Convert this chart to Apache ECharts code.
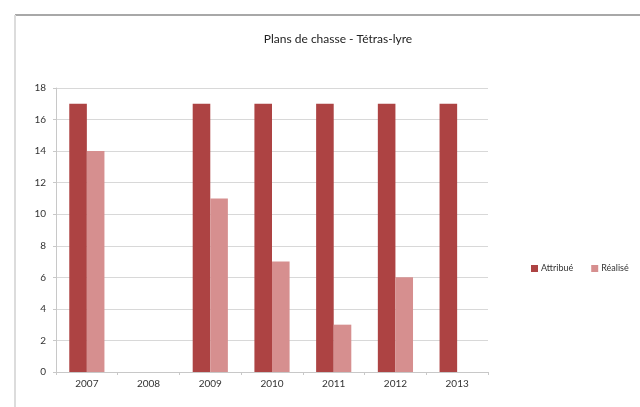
<!DOCTYPE html>
<html>
<head>
<meta charset="utf-8">
<script src="https://cdn.jsdelivr.net/npm/echarts@6/dist/echarts.min.js"></script>
<style>html,body{margin:0;padding:0;background:#fff}#c{width:640px;height:407px}</style>
</head>
<body>
<div id="c"></div>
<script>
const title = 'Plans de chasse - Tétras-lyre';
const categories = ['2007', '2008', '2009', '2010', '2011', '2012', '2013'];
const attribue = [17, null, 17, 17, 17, 17, 17];
const realise = [14, null, 11, 7, 3, 6, null];
const seriesNames = ['Attribué', 'Réalisé'];
const yTicks = [0, 2, 4, 6, 8, 10, 12, 14, 16, 18];

const font = 'Lato, "Open Sans", sans-serif';
const chart = echarts.init(document.getElementById('c'));
chart.setOption({
  backgroundColor: '#fff',
  animation: false,
  graphic: [
    { type: 'line', shape: { x1: 15, y1: 15, x2: 640, y2: 15 }, style: { stroke: '#a8a8a8', lineWidth: 2 } },
    { type: 'line', shape: { x1: 15, y1: 15, x2: 15, y2: 407 }, style: { stroke: '#dcdcdc', lineWidth: 2 } }
  ],
  title: {
    text: title, left: 333, top: 28, textAlign: 'center',
    textStyle: { fontFamily: font, fontSize: 12, fontWeight: 'normal', color: '#222' }
  },
  legend: {
    data: seriesNames, left: 526, top: 259, itemWidth: 7, itemHeight: 7, itemGap: 18,
    icon: 'rect',
    textStyle: { fontFamily: font, fontSize: 9, color: '#333', padding: [0, 0, 0, -2] }
  },
  grid: { left: 56, top: 88, width: 432, height: 284 },
  xAxis: {
    type: 'category', data: categories,
    axisLine: { lineStyle: { color: '#c8c8c8' } },
    axisTick: { show: true, length: 3, lineStyle: { color: '#c8c8c8' } },
    axisLabel: { fontFamily: font, fontSize: 10, color: '#333', margin: 7 }
  },
  yAxis: {
    type: 'value', min: yTicks[0], max: yTicks[yTicks.length - 1], interval: 2,
    axisLine: { show: true, lineStyle: { color: '#c8c8c8' } },
    axisTick: { show: true, length: 3, lineStyle: { color: '#c8c8c8' } },
    splitLine: { lineStyle: { color: '#d8d8d8' } },
    axisLabel: { fontFamily: font, fontSize: 10, color: '#333', margin: 10 }
  },
  series: [
    { name: seriesNames[0], type: 'bar', data: attribue, barGap: '0%', barCategoryGap: '43%',
      itemStyle: { color: '#ad4343' } },
    { name: seriesNames[1], type: 'bar', data: realise,
      itemStyle: { color: '#d68f8f' } }
  ]
});
</script>
</body>
</html>
